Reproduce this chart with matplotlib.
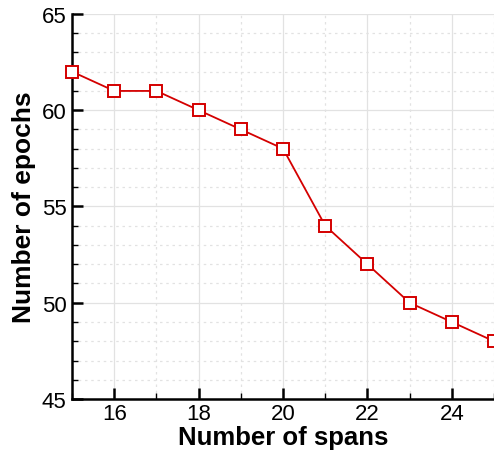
import matplotlib.pyplot as plt
from matplotlib.ticker import MultipleLocator

spans = [15, 16, 17, 18, 19, 20, 21, 22, 23, 24, 25]
epochs = [62, 61, 61, 60, 59, 58, 54, 52, 50, 49, 48]

plt.rcParams['font.family'] = ['Liberation Sans', 'DejaVu Sans']

fig = plt.figure(figsize=(4.94, 4.52), dpi=100)
ax = fig.add_axes([0.146, 0.115, 0.854, 0.852])

ax.plot(spans, epochs, color='#D40000', linewidth=1.3, marker='s',
        markersize=8, markerfacecolor='white', markeredgecolor='#D40000',
        markeredgewidth=1.4, clip_on=False, zorder=5)

ax.set_xlim(15, 25)
ax.set_ylim(45, 65)
ax.xaxis.set_major_locator(MultipleLocator(2))
ax.xaxis.set_minor_locator(MultipleLocator(1))
ax.yaxis.set_major_locator(MultipleLocator(5))
ax.yaxis.set_minor_locator(MultipleLocator(1))

# the reference leaves 15 unlabelled on x
ax.set_xticks([16, 18, 20, 22, 24])

ax.grid(True, which='major', color='#E2E2E2', linestyle='-', linewidth=0.9)
ax.grid(True, which='minor', color='#E2E2E2', linestyle=(0, (2, 3)), linewidth=0.9)
ax.set_axisbelow(True)

for side in ['top', 'right']:
    ax.spines[side].set_visible(False)
for side in ['left', 'bottom']:
    ax.spines[side].set_linewidth(1.8)

ax.tick_params(which='major', direction='in', length=8, width=1.8, labelsize=16, pad=4)
ax.tick_params(axis='x', which='major', pad=3)
ax.tick_params(which='minor', direction='in', length=4, width=1.0)

ax.set_xlabel('Number of spans', fontsize=18.5, fontweight='bold')
ax.xaxis.set_label_coords(0.5, -0.068)
ax.set_ylabel('Number of epochs', fontsize=19, fontweight='bold', labelpad=4)

plt.savefig('out.png', dpi=100)
